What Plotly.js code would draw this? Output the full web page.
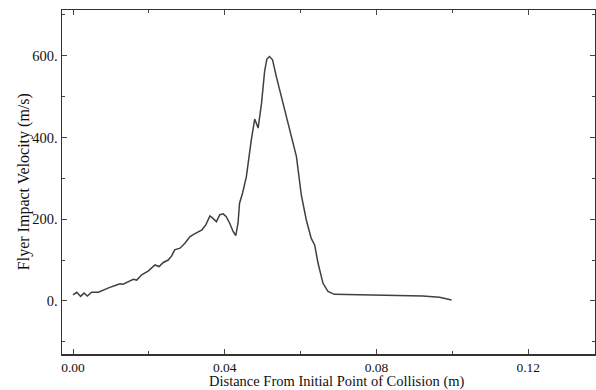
<!DOCTYPE html>
<html>
<head>
<meta charset="utf-8">
<script src="https://cdn.plot.ly/plotly-3.0.1.min.js"></script>
<style>html,body{margin:0;padding:0;background:#fff;}#chart{width:596px;height:390px;}</style>
</head>
<body>
<div id="chart"></div>
<script>
const distance = [0.0000,0.0010,0.0020,0.0029,0.0038,0.0049,0.0067,0.0080,0.0097,0.0115,0.0124,0.0132,0.0146,0.0159,0.0168,0.0181,0.0198,0.0216,0.0227,0.0238,0.0251,0.0260,0.0268,0.0277,0.0282,0.0295,0.0308,0.0318,0.0330,0.0340,0.0350,0.0361,0.0369,0.0378,0.0387,0.0396,0.0404,0.0413,0.0422,0.0429,0.0435,0.0439,0.0447,0.0457,0.0470,0.0479,0.0488,0.0497,0.0505,0.0511,0.0518,0.0526,0.0536,0.0553,0.0571,0.0589,0.0602,0.0615,0.0628,0.0637,0.0646,0.0659,0.0672,0.0689,0.0755,0.0834,0.0922,0.0966,0.0998];
const velocity = [15,21,11,19,12,21,21,27,33,39,42,41,47,53,51,64,73,88,84,94,100,110,125,127,129,141,157,163,170,174,186,208,202,194,211,213,206,190,170,160,190,239,264,304,394,445,423,484,561,592,598,590,549,484,419,353,258,198,153,137,92,43,23,16,15,13,12,9,2];
const yTickVals = [0,200,400,600];
const yTickText = ["0.","200.","400.","600."];
const xTickVals = [0,0.04,0.08,0.12];
const xTickText = ["0.00","0.04","0.08","0.12"];
const xTitle = 'Distance From Initial Point of Collision (m)';
const yTitle = 'Flyer Impact Velocity (m/s)';

const trace = {x: distance, y: velocity, mode: 'lines', line: {color: '#404040', width: 1.5}, hoverinfo: 'skip'};
const font = {family: '"Liberation Serif", "Times New Roman", serif', color: '#111'};
const layout = {
  width: 596, height: 390,
  margin: {l: 62, r: 1, t: 10, b: 36},
  paper_bgcolor: '#fff', plot_bgcolor: '#fff',
  showlegend: false,
  font: Object.assign({size: 14}, font),
  xaxis: {
    range: [-0.0029, 0.1376],
    tickvals: xTickVals, ticktext: xTickText,
    ticks: 'inside', ticklen: 5, tickwidth: 1, tickcolor: '#444',
    minor: {dtick: 0.02, tick0: 0, ticks: 'inside', ticklen: 3, tickcolor: '#444'},
    showline: true, linecolor: '#333', linewidth: 1.5, mirror: 'allticks',
    showgrid: false, zeroline: false,
    tickfont: Object.assign({size: 13.5}, font)
  },
  yaxis: {
    range: [-130, 712],
    tickvals: yTickVals, ticktext: yTickText,
    ticks: 'inside', ticklen: 5, tickwidth: 1, tickcolor: '#444',
    minor: {dtick: 100, tick0: 0, ticks: 'inside', ticklen: 3, tickcolor: '#444'},
    showline: true, linecolor: '#333', linewidth: 1.5, mirror: 'allticks',
    showgrid: false, zeroline: false,
    tickfont: Object.assign({size: 14.5}, font)
  },
  annotations: [
    {text: xTitle, xref: 'paper', yref: 'paper', x: 0.516, y: -0.0805, xanchor: 'center', yanchor: 'middle', showarrow: false, borderpad: 0, font: Object.assign({size: 14.5}, font)},
    {text: yTitle, xref: 'paper', yref: 'paper', x: -0.071, y: 0.5, xanchor: 'center', yanchor: 'middle', textangle: -90, showarrow: false, font: Object.assign({size: 16}, font)}
  ]
};
Plotly.newPlot('chart', [trace], layout, {displayModeBar: false, staticPlot: true});
</script>
</body>
</html>
